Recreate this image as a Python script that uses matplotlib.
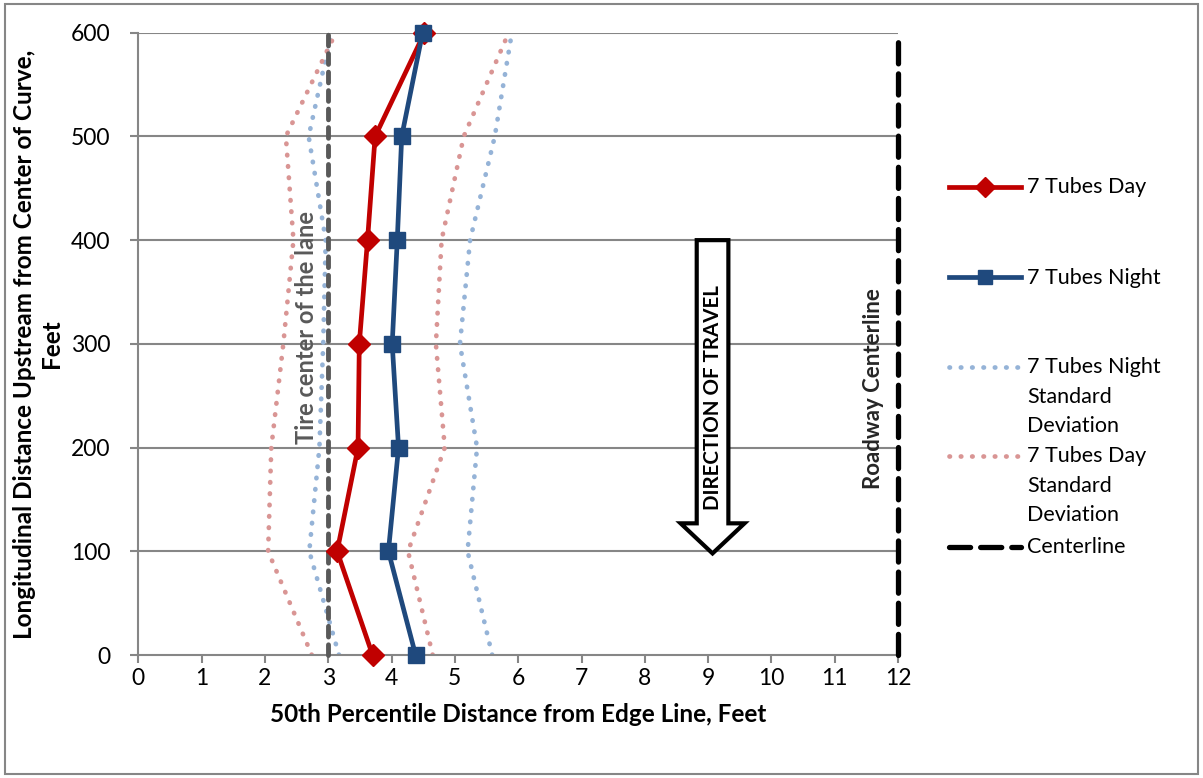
import matplotlib.pyplot as plt
from matplotlib.lines import Line2D
from matplotlib.patches import FancyArrow, Rectangle

plt.rcParams["font.family"] = ["Lato", "DejaVu Sans"]

# Data
upstream = [0, 100, 200, 300, 400, 500, 600]
day = [3.70, 3.14, 3.47, 3.49, 3.62, 3.74, 4.52]
night = [4.38, 3.95, 4.11, 4.01, 4.09, 4.16, 4.49]
day_sd_low = [2.74, 2.05, 2.10, 2.29, 2.45, 2.33, 3.12]
day_sd_high = [4.65, 4.26, 4.84, 4.70, 4.79, 5.14, 5.85]
night_sd_low = [3.17, 2.70, 2.86, 2.92, 2.96, 2.69, 3.05]
night_sd_high = [5.59, 5.20, 5.35, 5.08, 5.24, 5.63, 5.90]
tire_center = 3
roadway_center = 12

red = "#C00000"
blue = "#1F497D"
red_sd = "#D99594"
blue_sd = "#95B3D7"
grid = "#868686"

fig = plt.figure(figsize=(12.03, 7.78), dpi=100)
ax = fig.add_axes([0.1150, 0.158, 0.6315, 0.800])

# Gridlines
for y in upstream[1:]:
    ax.axhline(y, color=grid, lw=1.5, zorder=1)

# Standard deviation curves
dot = (0, (0.1, 2.3))
for xs in [night_sd_low, night_sd_high]:
    ax.plot(xs, upstream, color=blue_sd, lw=3.4, linestyle=dot,
            dash_capstyle="round", zorder=2)
for xs in [day_sd_low, day_sd_high]:
    ax.plot(xs, upstream, color=red_sd, lw=3.4, linestyle=dot,
            dash_capstyle="round", zorder=2)

# Reference lines
ax.plot([tire_center, tire_center], [0, 600], color="#595959", lw=3.5,
        linestyle=(0, (2.2, 1.6)), dash_capstyle="round", zorder=3,
        clip_on=False)
ax.plot([roadway_center, roadway_center], [0, 600], color="black", lw=3.8,
        linestyle=(0, (4.0, 1.9)), dash_capstyle="round", zorder=3,
        clip_on=False)

# Main series
ax.plot(night, upstream, color=blue, lw=3.4, marker="s", ms=11.5,
        zorder=5, clip_on=False)
ax.plot(day, upstream, color=red, lw=3.4, marker="D", ms=11.5,
        zorder=4, clip_on=False)

# Direction of travel arrow
ax.add_patch(FancyArrow(9.07, 400, 0, -302, width=0.5, head_width=1.01,
                        head_length=29, length_includes_head=True,
                        fc="white", ec="black", lw=3, zorder=6))
ax.text(9.07, 248, "DIRECTION OF TRAVEL", rotation=90,
        ha="center", va="center", fontsize=14.8, fontweight="bold", zorder=7)
ax.text(11.62, 257, "Roadway Centerline", rotation=90, ha="center",
        va="center", fontsize=16, fontweight="bold", color="#262626")
ax.text(2.65, 316, "Tire center of the lane", rotation=90, ha="center",
        va="center", fontsize=17, fontweight="bold", color="#595959",
        zorder=4)

ax.set_xlim(0, 12)
ax.set_ylim(0, 600)
ax.set_xticks(range(13))
ax.set_yticks(upstream)
ax.tick_params(axis="both", colors=grid, labelcolor="black", labelsize=16.5,
               length=6, width=1.5, direction="out")
ax.tick_params(axis="y", pad=14)
for side in ["top", "right"]:
    ax.spines[side].set_visible(False)
for side in ["left", "bottom"]:
    ax.spines[side].set_color(grid)
    ax.spines[side].set_linewidth(1.5)

ax.set_xlabel("50th Percentile Distance from Edge Line, Feet",
              fontsize=17.5, fontweight="bold", labelpad=10)
ax.set_ylabel("Longitudinal Distance Upstream from Center of Curve,\nFeet",
              fontsize=17.5, fontweight="bold", labelpad=6)

# Legend drawn to match the original layout
x0, x1, xt = 0.789, 0.849, 0.854
items = [
    (186.7, dict(color=red, lw=3.4, marker="D", ms=10, markevery=[1]),
     "7 Tubes Day"),
    (277.3, dict(color=blue, lw=3.4, marker="s", ms=10, markevery=[1]),
     "7 Tubes Night"),
    (366.7, dict(color=blue_sd, lw=3.4, linestyle=dot, dash_capstyle="round"),
     "7 Tubes Night\nStandard\nDeviation"),
    (456.0, dict(color=red_sd, lw=3.4, linestyle=dot, dash_capstyle="round"),
     "7 Tubes Day\nStandard\nDeviation"),
    (546.7, dict(color="black", lw=3.8, linestyle=(0, (4.0, 1.9)),
                 dash_capstyle="round"),
     "Centerline"),
]
for ypx, style, label in items:
    yf = 1 - ypx / 778
    fig.add_artist(Line2D([x0, (x0 + x1) / 2, x1], [yf, yf, yf], **style))
    fig.text(xt, yf + 0.0125, label, ha="left", va="top", fontsize=15.5,
             linespacing=1.6)

# Chart border
fig.add_artist(Rectangle((0.004, 0.005), 0.992, 0.99, fill=False,
                         ec=grid, lw=1.5, transform=fig.transFigure))

fig.savefig("out.png", dpi=100)
